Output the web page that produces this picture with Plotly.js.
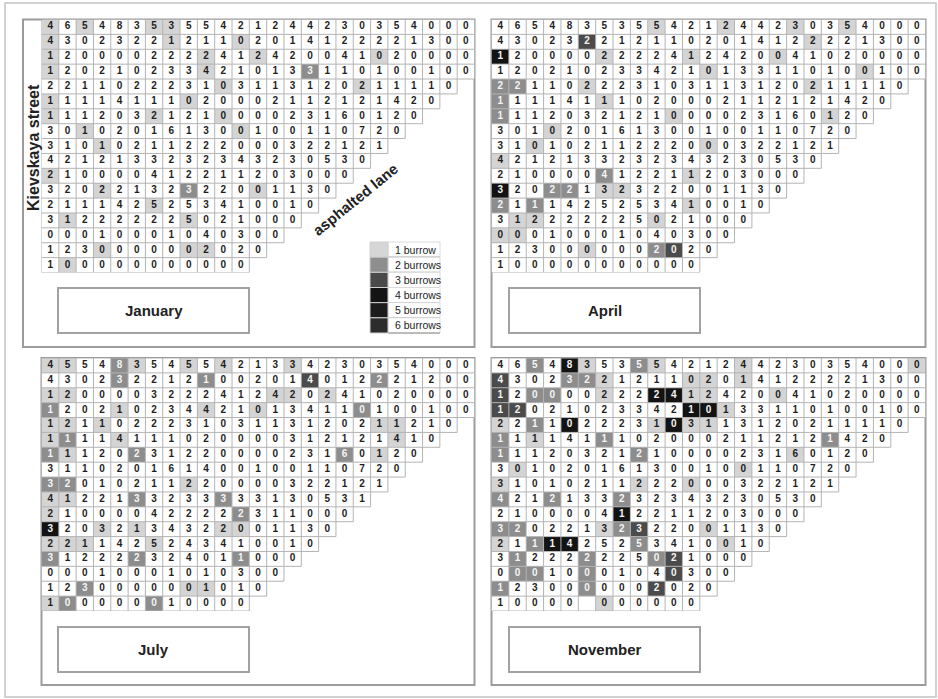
<!DOCTYPE html>
<html><head><meta charset="utf-8">
<script src="https://cdn.plot.ly/plotly-3.0.1.min.js"></script>
<style>html,body{margin:0;padding:0;background:#fff}#chart{width:938px;height:699px}</style>
</head><body><div id="chart"></div>
<script>
// ---------- DATA ----------
const panelNames = ['January', 'April', 'July', 'November'];

const januaryNumbers = [
 [4,6,5,4,8,3,5,3,5,5,4,2,1,2,4,4,2,3,0,3,5,4,0,0,0],
 [4,3,0,2,3,2,2,1,2,1,1,0,2,0,1,4,1,2,2,2,2,1,3,0,0],
 [1,2,0,0,0,0,2,2,2,2,4,1,2,4,2,0,0,4,1,0,2,0,0,0,0],
 [1,2,0,2,1,0,2,3,3,4,2,1,0,1,3,3,1,1,0,1,0,0,1,0,0],
 [2,2,1,1,0,2,2,2,3,1,0,3,1,1,3,1,2,0,2,1,1,1,1,0],
 [1,1,1,1,4,1,1,1,0,2,0,0,0,2,1,1,2,1,2,1,4,2,0],
 [1,1,1,2,0,3,2,1,2,1,0,0,0,0,2,3,1,6,0,1,2,0],
 [3,0,1,0,2,0,1,6,1,3,0,0,1,0,0,1,1,0,7,2,0],
 [3,1,0,1,0,2,1,1,2,2,2,0,0,0,3,2,2,1,2,1],
 [4,2,1,2,1,3,3,2,3,2,3,4,3,2,3,0,5,3,0],
 [2,1,0,0,0,0,4,1,2,2,1,1,2,0,3,0,0,0],
 [3,2,0,2,2,1,3,2,3,2,2,0,0,1,1,3,0],
 [2,1,1,1,4,2,5,2,5,3,4,1,0,0,1,0],
 [3,1,2,2,2,2,2,2,5,0,2,1,0,0,0],
 [0,0,0,1,0,0,0,1,0,4,0,3,0,0],
 [1,2,3,0,0,0,0,0,0,2,0,2,0],
 [1,0,0,0,0,0,0,0,0,0,0,0]
];
const aprilNumbers = [
 [4,6,5,4,8,3,5,3,5,5,4,2,1,2,4,4,2,3,0,3,5,4,0,0,0],
 [4,3,0,2,3,2,2,1,2,1,1,0,2,0,1,4,1,2,2,2,2,1,3,0,0],
 [1,2,0,0,0,0,2,2,2,2,4,1,2,4,2,0,0,4,1,0,2,0,0,0,0],
 [1,2,0,2,1,0,2,3,3,4,2,1,0,1,3,3,1,1,0,1,0,0,1,0,0],
 [2,2,1,1,0,2,2,2,3,1,0,3,1,1,3,1,2,0,2,1,1,1,1,0],
 [1,1,1,1,4,1,1,1,0,2,0,0,0,2,1,1,2,1,2,1,4,2,0],
 [1,1,1,2,0,3,2,1,2,1,0,0,0,0,2,3,1,6,0,1,2,0],
 [3,0,1,0,2,0,1,6,1,3,0,0,1,0,0,1,1,0,7,2,0],
 [3,1,0,1,0,2,1,1,2,2,2,0,0,0,3,2,2,1,2,1],
 [4,2,1,2,1,3,3,2,3,2,3,4,3,2,3,0,5,3,0],
 [2,1,0,0,0,0,4,1,2,2,1,1,2,0,3,0,0,0],
 [3,2,0,2,2,1,3,2,3,2,2,0,0,1,1,3,0],
 [2,1,1,1,4,2,5,2,5,3,4,1,0,0,1,0],
 [3,1,2,2,2,2,2,2,5,0,2,1,0,0,0],
 [0,0,0,1,0,0,0,1,0,4,0,3,0,0],
 [1,2,3,0,0,0,0,0,0,2,0,2,0],
 [1,0,0,0,0,0,0,0,0,0,0,0]
];
const julyNumbers = [
 [4,5,5,4,8,3,5,4,5,5,4,2,1,3,3,4,2,3,0,3,5,4,0,0,0],
 [4,3,0,2,3,2,2,1,2,1,0,0,2,0,1,4,0,1,2,2,2,1,2,0,0],
 [1,2,0,0,0,0,3,2,2,2,4,1,2,4,2,0,2,4,1,0,2,0,0,0,0],
 [1,2,0,2,1,0,2,3,4,4,2,1,0,1,3,4,1,1,0,1,0,0,1,0,0],
 [1,2,1,1,0,2,2,2,3,1,0,3,1,1,3,1,2,0,2,1,1,2,1,0],
 [1,1,1,1,4,1,1,1,0,2,0,0,0,0,3,1,2,1,2,1,4,1,0],
 [1,1,1,2,0,2,3,1,2,2,0,0,0,0,2,3,1,6,0,1,2,0],
 [3,1,1,0,2,0,1,6,1,4,0,0,1,0,0,1,1,0,7,2,0],
 [3,2,0,1,0,2,1,1,2,2,0,0,0,0,3,2,2,1,2,1],
 [4,1,2,2,1,3,3,2,3,3,3,3,3,1,3,0,5,3,1],
 [2,1,0,0,0,0,4,2,2,2,2,2,3,1,1,0,0,0],
 [3,2,0,3,2,1,3,4,3,2,2,0,0,1,1,3,0],
 [2,2,1,1,4,2,5,2,4,3,4,1,0,0,1,0],
 [3,1,2,2,2,2,3,2,4,0,1,1,0,0,0],
 [0,0,0,1,0,0,0,1,0,1,0,3,0,0],
 [1,2,3,0,0,0,0,0,0,1,0,1,0],
 [1,0,0,0,0,0,0,1,0,0,0,0]
];
const novemberNumbers = [
 [4,6,5,4,8,3,5,3,5,5,4,2,1,2,4,4,2,3,0,3,5,4,0,0,0],
 [4,3,0,2,3,2,2,1,2,1,1,0,2,0,1,4,1,2,2,2,2,1,3,0,0],
 [1,2,0,0,0,0,2,2,2,2,4,1,2,4,2,0,0,4,1,0,2,0,0,0,0],
 [1,2,0,2,1,0,2,3,3,4,2,1,0,1,3,3,1,1,0,1,0,0,1,0,0],
 [2,2,1,1,0,2,2,2,3,1,0,3,1,1,3,1,2,0,2,1,1,1,1,0],
 [1,1,1,1,4,1,1,1,0,2,0,0,0,2,1,1,2,1,2,1,4,2,0],
 [1,1,1,2,0,3,2,1,2,1,0,0,0,0,2,3,1,6,0,1,2,0],
 [3,0,1,0,2,0,1,6,1,3,0,0,1,0,0,1,1,0,7,2,0],
 [3,1,0,1,0,2,1,1,2,2,2,0,0,0,3,2,2,1,2,1],
 [4,2,1,2,1,3,3,2,3,2,3,4,3,2,3,0,5,3,0],
 [2,1,0,0,0,0,4,1,2,2,1,1,2,0,3,0,0,0],
 [3,2,0,2,2,1,3,2,3,2,2,0,0,1,1,3,0],
 [2,1,1,1,4,2,5,2,5,3,4,1,0,0,1,0],
 [3,1,2,2,2,2,2,2,5,0,2,1,0,0,0],
 [0,0,0,1,0,0,0,1,0,4,0,3,0,0],
 [1,2,3,0,0,0,0,0,0,2,0,2,0],
 [1,0,0,0,0,null,0,0,0,0,0,0]
];

// burrows per cell: [row, column, number of burrows]
const januaryBurrows = [
 [0,0,1],[0,2,1],[0,6,1],[0,7,1],
 [1,0,1],[1,7,1],[1,11,1],
 [2,0,1],[2,9,1],[2,12,1],[2,19,1],
 [3,0,1],[3,9,1],[3,15,2],
 [4,10,1],[4,18,1],
 [5,0,1],[5,8,1],
 [6,0,1],[6,6,1],[6,10,1],
 [7,2,1],[7,11,1],
 [8,3,1],
 [10,0,1],
 [11,3,1],[11,8,2],[11,12,1],
 [12,6,1],
 [13,1,1],[13,8,1],
 [15,3,1],[15,8,1],[15,9,1],
 [16,1,1]
];
const aprilBurrows = [
 [0,9,1],[0,13,1],[0,17,1],[0,20,1],
 [1,5,3],[1,18,1],
 [2,0,4],[2,6,1],[2,11,1],[2,16,1],
 [3,12,1],[3,21,1],
 [4,0,2],[4,1,2],[4,5,1],[4,18,1],
 [5,0,2],[5,6,1],
 [6,0,2],[6,10,1],[6,19,1],
 [7,3,1],
 [8,2,1],[8,12,1],
 [9,0,1],
 [10,6,2],[10,11,1],
 [11,0,4],[11,3,2],[11,4,2],[11,6,1],[11,7,1],
 [12,0,2],[12,2,2],[12,11,1],
 [13,1,1],[13,2,1],[13,9,1],
 [14,0,1],[14,1,1],
 [15,5,1],[15,9,2],[15,10,3]
];
const julyBurrows = [
 [0,0,1],[0,1,1],[0,4,2],[0,5,1],[0,8,1],[0,10,1],[0,14,1],
 [1,4,2],[1,9,2],[1,15,3],[1,19,2],
 [2,0,1],[2,1,1],[2,13,1],[2,14,1],[2,16,1],
 [3,0,2],[3,4,1],[3,9,1],[3,12,1],[3,18,2],
 [4,0,1],[4,1,1],[4,3,1],[4,19,1],[4,20,1],
 [5,0,1],[5,1,2],[5,4,1],[5,20,1],
 [6,0,2],[6,1,1],[6,5,2],[6,17,2],[6,19,1],
 [8,0,2],[8,1,2],[8,8,1],
 [9,0,1],[9,1,1],[9,5,2],[9,10,2],
 [10,0,1],[10,11,2],
 [11,0,4],[11,3,1],[11,5,1],[11,10,1],[11,11,1],
 [12,0,1],[12,1,1],[12,2,1],[12,6,1],
 [13,0,2],[13,5,2],[13,11,2],
 [15,2,2],[15,8,1],[15,9,1],
 [16,0,1],[16,1,2],[16,6,2]
];
const novemberBurrows = [
 [0,2,2],[0,4,4],[0,5,1],[0,8,2],[0,9,1],[0,14,1],[0,24,1],
 [1,0,3],[1,4,2],[1,5,2],[1,6,1],[1,11,1],[1,12,1],[1,14,1],
 [2,0,3],[2,2,2],[2,3,2],[2,6,1],[2,9,4],[2,10,4],[2,11,1],[2,12,1],[2,16,1],
 [3,0,3],[3,1,3],[3,11,4],[3,12,4],[3,13,1],
 [4,0,1],[4,2,2],[4,4,4],[4,9,1],[4,10,4],[4,11,1],[4,12,1],
 [5,0,2],[5,2,1],[5,6,2],[5,19,2],
 [6,0,2],[6,8,2],[6,17,1],
 [7,1,1],[7,14,1],
 [8,0,1],[8,8,1],[8,11,1],
 [9,0,2],[9,3,2],[9,7,2],
 [10,7,4],
 [11,0,2],[11,1,2],[11,6,1],[11,7,2],[11,8,3],[11,12,1],
 [12,0,1],[12,2,2],[12,3,4],[12,4,4],[12,8,2],[12,13,1],
 [13,1,2],[13,5,2],[13,9,2],[13,10,3],
 [14,1,2],[14,2,2],[14,5,2],[14,10,3],
 [15,0,2],[15,5,2],[15,9,3],
 [16,6,1]
];

const legendLabels = ['1 burrow','2 burrows','3 burrows','4 burrows','5 burrows','6 burrows'];
const legendColors = ['#d6d6d6','#8e8e8e','#4a4a4a','#141414','#1c1c1c','#2c2c2c'];
const cellColors = ['#ffffff','#d4d4d4','#8d8d8d','#4b4b4b','#131313'];

// ---------- LAYOUT GEOMETRY ----------
const W = 938, H = 699;
const px = v => v / W, py = v => 1 - v / H;
const FONT = 'Liberation Sans, Arial, sans-serif';

const panels = [
 {name: panelNames[0], numbers: januaryNumbers, burrows: januaryBurrows,
  gx: [41.5, 474.5], gy: [19.5, 272.5], frame: [23, 19.5, 474.5, 347], label: [58, 288, 249, 333]},
 {name: panelNames[1], numbers: aprilNumbers, burrows: aprilBurrows,
  gx: [491.5, 925.5], gy: [19.5, 272.5], frame: [491.5, 19.5, 925.5, 347], label: [509, 288, 700, 333]},
 {name: panelNames[2], numbers: julyNumbers, burrows: julyBurrows,
  gx: [41.5, 474.5], gy: [358, 611], frame: [41.5, 358, 474.5, 685], label: [58, 627, 249, 672]},
 {name: panelNames[3], numbers: novemberNumbers, burrows: novemberBurrows,
  gx: [491.5, 925.5], gy: [358, 611], frame: [491.5, 358, 925.5, 685], label: [509, 627, 700, 672]}
];

const traces = [];
const shapes = [];
const annotations = [];
const layout = {
  width: W, height: H, margin: {l: 0, r: 0, t: 0, b: 0},
  paper_bgcolor: '#ffffff', plot_bgcolor: 'rgba(0,0,0,0)',
  showlegend: false, hovermode: false
};

// outer border
shapes.push({type: 'rect', xref: 'paper', yref: 'paper', x0: px(5), x1: px(936), y0: py(3), y1: py(697),
  line: {color: '#c4c4c4', width: 1.5}, layer: 'below'});

panels.forEach((p, i) => {
  const s = i === 0 ? '' : String(i + 1);
  const xa = 'x' + s, ya = 'y' + s;
  const nRows = p.numbers.length;
  const lens = p.numbers.map(r => r.length);
  const nCols = Math.max(...lens);

  layout['xaxis' + s] = {domain: [px(p.gx[0]), px(p.gx[1])], range: [0, nCols], visible: false,
    fixedrange: true, anchor: ya};
  layout['yaxis' + s] = {domain: [py(p.gy[1]), py(p.gy[0])], range: [nRows, 0], visible: false,
    fixedrange: true, anchor: xa};

  // panel frame
  shapes.push({type: 'rect', xref: 'paper', yref: 'paper',
    x0: px(p.frame[0]), x1: px(p.frame[2]), y0: py(p.frame[3]), y1: py(p.frame[1]),
    line: {color: '#9c9c9c', width: 2}, layer: 'below'});

  // cell fills
  const z = p.numbers.map(row => Array.from({length: nCols}, (_, c) => c < row.length ? 0 : null));
  p.burrows.forEach(([r, c, n]) => { z[r][c] = n; });
  const xs = Array.from({length: nCols}, (_, c) => c + 0.5);
  const ys = Array.from({length: nRows}, (_, r) => r + 0.5);
  const cs = [];
  cellColors.forEach((col, k) => {
    const a = k / cellColors.length, b = (k + 1) / cellColors.length;
    cs.push([a, col]); cs.push([b, col]);
  });
  traces.push({type: 'heatmap', x: xs, y: ys, z: z, xaxis: xa, yaxis: ya,
    zmin: -0.5, zmax: cellColors.length - 0.5, colorscale: cs, showscale: false,
    hoverinfo: 'skip', xgap: 0, ygap: 0});

  // numbers
  const tx = [], ty = [], tt = [], tc = [];
  p.numbers.forEach((row, r) => row.forEach((v, c) => {
    if (v === null) return;
    tx.push(c + 0.5); ty.push(r + 0.5); tt.push(String(v));
    tc.push(z[r][c] >= 2 ? '#f4f4f4' : '#1e1e1e');
  }));
  traces.push({type: 'scatter', mode: 'text', x: tx, y: ty, text: tt, xaxis: xa, yaxis: ya,
    textposition: 'middle center', hoverinfo: 'skip', cliponaxis: false,
    textfont: {family: FONT, size: 10, color: tc, weight: 'bold'}});

  // cell borders, built from row lengths
  for (let k = 0; k <= nRows; k++) {
    const len = Math.max(k > 0 ? lens[k - 1] : 0, k < nRows ? lens[k] : 0);
    shapes.push({type: 'line', xref: xa, yref: ya, x0: 0, x1: len, y0: k, y1: k,
      line: {color: '#b4b4b4', width: 1}});
  }
  for (let c = 0; c <= nCols; c++) {
    const depth = lens.filter(l => l >= c).length;
    shapes.push({type: 'line', xref: xa, yref: ya, x0: c, x1: c, y0: 0, y1: depth,
      line: {color: '#b4b4b4', width: 1}});
  }

  // label box
  shapes.push({type: 'rect', xref: 'paper', yref: 'paper',
    x0: px(p.label[0]), x1: px(p.label[2]), y0: py(p.label[3]), y1: py(p.label[1]),
    line: {color: '#a2a2a2', width: 2}, fillcolor: '#ffffff'});
  annotations.push({xref: 'paper', yref: 'paper', x: px((p.label[0] + p.label[2]) / 2),
    y: py((p.label[1] + p.label[3]) / 2), text: '<b>' + p.name + '</b>', showarrow: false,
    xanchor: 'center', yanchor: 'middle', font: {family: FONT, size: 15, color: '#222222'}});
});

// street labels
annotations.push({xref: 'paper', yref: 'paper', x: px(33), y: py(148), text: '<b>Kievskaya street</b>',
  textangle: -90, showarrow: false, xanchor: 'center', yanchor: 'middle',
  font: {family: FONT, size: 16, color: '#222222'}});
annotations.push({xref: 'paper', yref: 'paper', x: px(355), y: py(199), text: '<b>asphalted lane</b>',
  textangle: -39, showarrow: false, xanchor: 'center', yanchor: 'middle',
  font: {family: FONT, size: 15, color: '#222222'}});

// legend
const lx0 = 370, lx1 = 388, lx2 = 440, ly0 = 242, lh = (333 - 242) / legendLabels.length;
legendLabels.forEach((lab, k) => {
  const t = ly0 + k * lh, b = t + lh;
  shapes.push({type: 'rect', xref: 'paper', yref: 'paper', x0: px(lx1), x1: px(lx2), y0: py(b), y1: py(t),
    line: {color: '#dcdcdc', width: 1}, fillcolor: '#ffffff'});
  shapes.push({type: 'line', xref: 'paper', yref: 'paper', x0: px(lx1), x1: px(lx2), y0: py(b), y1: py(b),
    line: {color: '#8a8a8a', width: 1}});
  shapes.push({type: 'rect', xref: 'paper', yref: 'paper', x0: px(lx0), x1: px(lx1), y0: py(b), y1: py(t),
    line: {color: '#d0d0d0', width: 1}, fillcolor: legendColors[k]});
  annotations.push({xref: 'paper', yref: 'paper', x: px(lx1 + 5), y: py((t + b) / 2), text: lab,
    showarrow: false, xanchor: 'left', yanchor: 'middle',
    font: {family: FONT, size: 10.5, color: '#222222'}});
});

layout.shapes = shapes;
layout.annotations = annotations;
Plotly.newPlot('chart', traces, layout, {staticPlot: true, displayModeBar: false});
</script>
</body></html>
